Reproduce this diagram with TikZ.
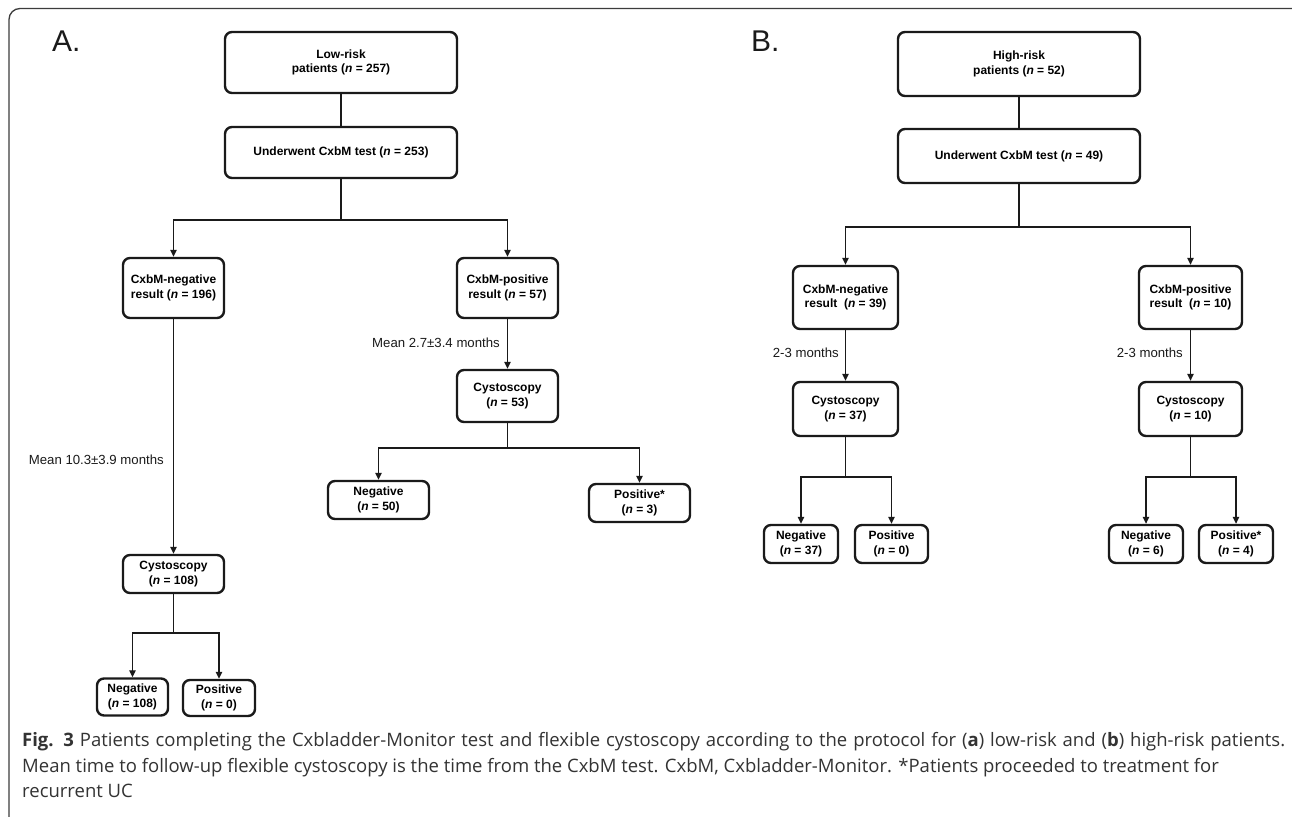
\documentclass[tikz,border=0pt]{standalone}
\usepackage{fontspec}
\setmainfont{Liberation Sans}
\newfontfamily\capfont{Open Sans}
\usetikzlibrary{arrows.meta}
\definecolor{ink}{HTML}{1A1A1A}
\definecolor{capgray}{HTML}{333333}
\begin{document}
\begin{tikzpicture}[x=1pt,y=-1pt,
  flowbox/.style={draw=ink, line width=2.4pt, rounded corners=7pt, align=center, inner sep=0pt,
    font=\fontsize{12}{14.5}\selectfont\bfseries, text=black},
  conn/.style={draw=ink, line width=1.2pt},
  arr/.style={conn, -{Triangle[length=7pt,width=6.5pt]}},
  lbl/.style={font=\fontsize{13.2}{16}\selectfont, text=ink, inner sep=0pt},
  panel/.style={font=\fontsize{30}{36}\selectfont, text=ink, inner sep=0pt, anchor=base west},
  capline/.style={font=\capfont\fontsize{18.5}{22}\selectfont, text=capgray, inner sep=0pt, anchor=base west}
]
\useasboundingbox (0,0) rectangle (1292,816);
\begin{scope}
  \clip (0,0) rectangle (1292,816);
  \draw[line width=1.3pt, draw=ink!85, rounded corners=11pt] (9,840) -- (9,8.5) -- (1304,8.5) -- (1304,840);
\end{scope}

% panel letters
\node[panel] (la) at (52,52) {A.};
\node[panel] (lb) at (751,52) {B.};

% ---------- Panel A ----------
\node[flowbox, minimum width=232pt, minimum height=61pt] (lowrisk) at (341,62.5) {Low-risk\\patients (\textit{n} = 257)};
\node[flowbox, minimum width=232pt, minimum height=51pt] (undA) at (341,152.5) {Underwent CxbM test (\textit{n} = 253)};
\node[flowbox, minimum width=101pt, minimum height=60pt] (negA) at (173.5,288) {CxbM-negative\\result (\textit{n} = 196)};
\node[flowbox, minimum width=101pt, minimum height=60pt] (posA) at (507.5,288) {CxbM-positive\\result (\textit{n} = 57)};
\node[flowbox, minimum width=101pt, minimum height=38pt] (cystA1) at (173.5,574) {Cystoscopy\\(\textit{n} = 108)};
\node[flowbox, minimum width=71pt, minimum height=37pt] (negA1) at (132.5,697) {Negative\\(\textit{n} = 108)};
\node[flowbox, minimum width=72pt, minimum height=36pt] (posA1) at (219,698) {Positive\\(\textit{n} = 0)};
\node[flowbox, minimum width=101pt, minimum height=52pt] (cystA2) at (507.5,396) {Cystoscopy\\(\textit{n} = 53)};
\node[flowbox, minimum width=101pt, minimum height=38pt] (negA2) at (378.5,500) {Negative\\(\textit{n} = 50)};
\node[flowbox, minimum width=101pt, minimum height=38pt] (posA2) at (639.5,503) {Positive*\\(\textit{n} = 3)};

\coordinate (jA) at (341,220);
\coordinate (jA1) at (173.5,633);
\coordinate (jA2) at (507.5,448);
\draw[conn] (lowrisk) -- (undA);
\draw[conn] (undA.south) -- (jA);
\draw[arr] (jA) -| (negA.north);
\draw[arr] (jA) -| (posA.north);
\draw[arr] (negA) -- (cystA1);
\draw[arr] (posA) -- (cystA2);
\draw[conn] (cystA1.south) -- (jA1);
\draw[arr] (jA1) -| (negA1.north);
\draw[arr] (jA1) -| (posA1.north);
\draw[conn] (cystA2.south) -- (jA2);
\draw[arr] (jA2) -| (negA2.north);
\draw[arr] (jA2) -| (posA2.north);

\node[lbl, anchor=east] (tA1) at (164,460) {Mean 10.3±3.9 months};
\node[lbl, anchor=east] (tA2) at (500,343) {Mean 2.7±3.4 months};

% ---------- Panel B ----------
\node[flowbox, minimum width=242pt, minimum height=64pt] (highrisk) at (1019,64) {High-risk\\patients (\textit{n} = 52)};
\node[flowbox, minimum width=242pt, minimum height=54pt] (undB) at (1019,156) {Underwent CxbM test (\textit{n} = 49)};
\node[flowbox, minimum width=105pt, minimum height=63pt] (negB) at (845.5,297.5) {CxbM-negative\\result\ \ (\textit{n} = 39)};
\node[flowbox, minimum width=103pt, minimum height=63pt] (posB) at (1190.5,297.5) {CxbM-positive\\result\ \ (\textit{n} = 10)};
\node[flowbox, minimum width=105pt, minimum height=54pt] (cystB1) at (845.5,409) {Cystoscopy\\(\textit{n} = 37)};
\node[flowbox, minimum width=103pt, minimum height=54pt] (cystB2) at (1190.5,409) {Cystoscopy\\(\textit{n} = 10)};
\node[flowbox, minimum width=74pt, minimum height=38pt] (negB1) at (801,544) {Negative\\(\textit{n} = 37)};
\node[flowbox, minimum width=73pt, minimum height=38pt] (posB1) at (891.5,544) {Positive\\(\textit{n} = 0)};
\node[flowbox, minimum width=74pt, minimum height=38pt] (negB2) at (1146,544) {Negative\\(\textit{n} = 6)};
\node[flowbox, minimum width=74pt, minimum height=38pt] (posB2) at (1236,544) {Positive*\\(\textit{n} = 4)};

\coordinate (jB) at (1019,227);
\coordinate (jB1) at (845.5,477);
\coordinate (jB2) at (1190.5,477);
\draw[conn] (highrisk) -- (undB);
\draw[conn] (undB.south) -- (jB);
\draw[arr] (jB) -| (negB.north);
\draw[arr] (jB) -| (posB.north);
\draw[arr] (negB) -- (cystB1);
\draw[arr] (posB) -- (cystB2);
\draw[conn] (cystB1.south) -- (jB1);
\draw[arr] (jB1) -| (negB1.north);
\draw[arr] (jB1) -| (posB1.north);
\draw[conn] (cystB2.south) -- (jB2);
\draw[arr] (jB2) -| (negB2.north);
\draw[arr] (jB2) -| (posB2.north);

\node[lbl, anchor=east] (tB1) at (839,353) {2-3 months};
\node[lbl, anchor=east] (tB2) at (1183,353) {2-3 months};

% ---------- Caption ----------
\node[capline] (c1) at (22,746) {\makebox[1263pt][s]{\textbf{Fig. 3} Patients completing the Cxbladder-Monitor test and flexible cystoscopy according to the protocol for (\textbf{a}) low-risk and (\textbf{b}) high-risk patients.}};
\node[capline] (c2) at (22,772) {Mean time to follow-up flexible cystoscopy is the time from the CxbM test. CxbM, Cxbladder-Monitor. *Patients proceeded to treatment for};
\node[capline] (c3) at (22,797.5) {recurrent UC};
\end{tikzpicture}
\end{document}
